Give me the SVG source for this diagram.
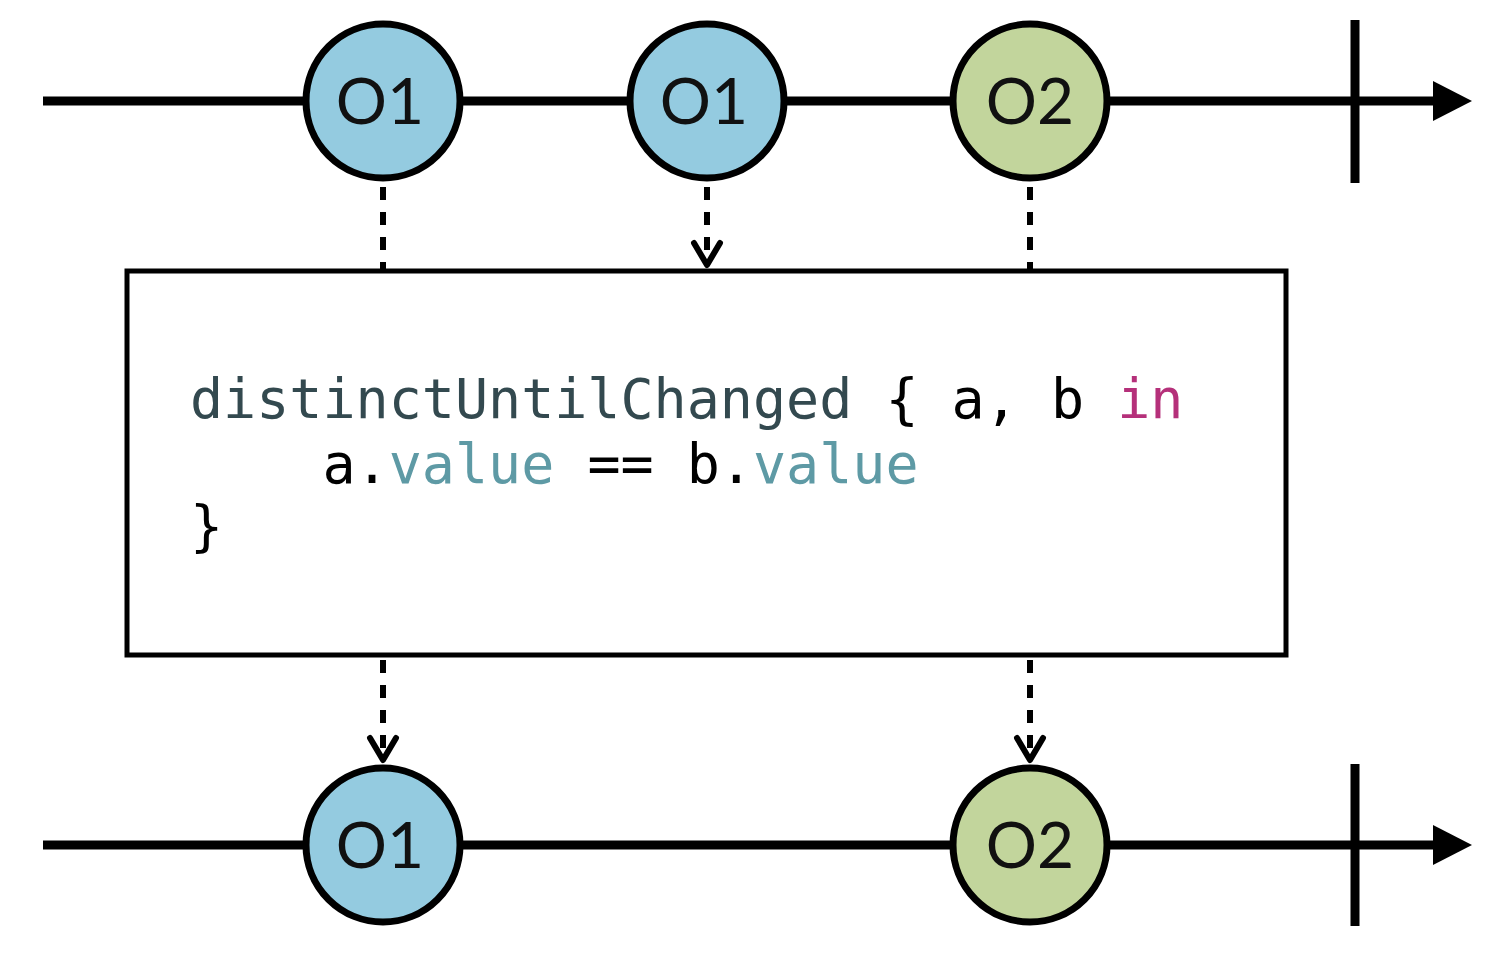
<svg xmlns="http://www.w3.org/2000/svg" width="1505" height="966" viewBox="0 0 1505 966">
<style>
.tl{stroke:#000;stroke-width:9;fill:none}
.tick{stroke:#000;stroke-width:9}
.ball{stroke:#000;stroke-width:7}
.b1{fill:#94CBE0}
.b2{fill:#C2D59C}
.lbl{font-family:Lato,"Noto Sans",sans-serif;font-size:64px;fill:#111;text-anchor:middle}
.dash{stroke:#000;stroke-width:6;stroke-dasharray:13 12;fill:none}
.chev{stroke:#000;stroke-width:6;fill:none;stroke-linecap:round;stroke-linejoin:round}
.code{font-family:"DejaVu Sans Mono","Liberation Mono",monospace;font-size:55px}
.fn{fill:#33494F}.kw{fill:#B5307A}.pr{fill:#5E9AA5}.pl{fill:#000}
</style>
<g id="timeline-top">
<line class="tl" x1="43" y1="101" x2="1436" y2="101"/>
<polygon points="1433,81 1472,101 1433,121" fill="#000"/>
<line class="tick" x1="1355" y1="20" x2="1355" y2="183"/>
</g>
<g id="timeline-bottom">
<line class="tl" x1="43" y1="845" x2="1436" y2="845"/>
<polygon points="1433,825 1472,845 1433,865" fill="#000"/>
<line class="tick" x1="1355" y1="764" x2="1355" y2="926"/>
</g>
<g id="connectors">
<line class="dash" x1="383" y1="187" x2="383" y2="271"/>
<line class="dash" x1="707" y1="187" x2="707" y2="264"/>
<polyline class="chev" points="694,243 707,265 720,243"/>
<line class="dash" x1="1030" y1="187" x2="1030" y2="271"/>
<line class="dash" x1="383" y1="660" x2="383" y2="759"/>
<polyline class="chev" points="370,738 383,760 396,738"/>
<line class="dash" x1="1030" y1="660" x2="1030" y2="759"/>
<polyline class="chev" points="1017,738 1030,760 1043,738"/>
</g>
<g id="top-o1a"><circle class="ball b1" cx="383" cy="101" r="77"/><text class="lbl" x="380" y="124">O1</text></g>
<g id="top-o1b"><circle class="ball b1" cx="707" cy="101" r="77"/><text class="lbl" x="704" y="124">O1</text></g>
<g id="top-o2"><circle class="ball b2" cx="1030" cy="101" r="77"/><text class="lbl" x="1030" y="124">O2</text></g>
<g id="operator">
<rect x="127" y="271" width="1159" height="384" fill="#fff" stroke="#000" stroke-width="5"/>
<text class="code" x="190" y="418" xml:space="preserve"><tspan class="fn">distinctUntilChanged</tspan><tspan class="pl"> { a, b </tspan><tspan class="kw">in</tspan></text>
<text class="code" x="190" y="483" xml:space="preserve"><tspan class="pl">    a.</tspan><tspan class="pr">value</tspan><tspan class="pl"> == b.</tspan><tspan class="pr">value</tspan></text>
<text class="code pl" x="190" y="545">}</text>
</g>
<g id="bottom-o1"><circle class="ball b1" cx="383" cy="845" r="77"/><text class="lbl" x="380" y="868">O1</text></g>
<g id="bottom-o2"><circle class="ball b2" cx="1030" cy="845" r="77"/><text class="lbl" x="1030" y="868">O2</text></g>
</svg>
